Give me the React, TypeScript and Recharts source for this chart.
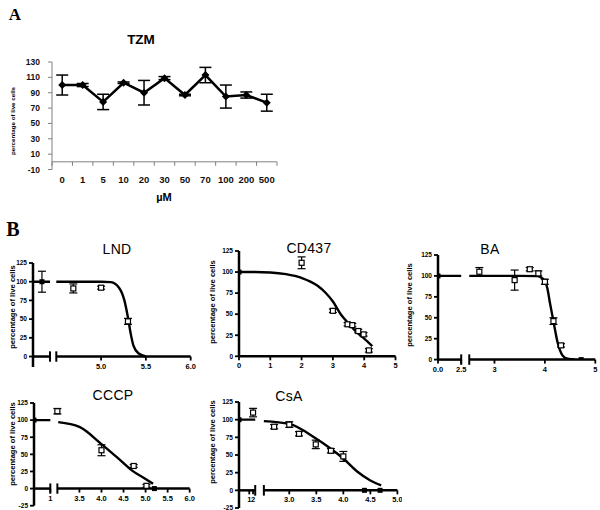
import React from 'react';
import { ComposedChart, Line, Scatter, XAxis, YAxis, ErrorBar, ReferenceLine } from 'recharts';

const SANS = '"Liberation Sans", Arial, sans-serif';
const SERIF = '"Liberation Serif", "Times New Roman", serif';

// ---- Panel A: TZM dose response (Excel style)
const tzmDoses = ['0', '1', '5', '10', '20', '30', '50', '70', '100', '200', '500'];
const tzmLive = [100, 100, 78, 103, 90, 109, 87, 113, 85, 87, 77];
const tzmSd = [13, 2, 10, 1, 16, 2, 1, 10, 15, 4, 11];
const tzmTicks = [-10, 10, 30, 50, 70, 90, 110, 130];

// ---- Panel B: fitted curves (log concentration)
const lndDose = [4.69, 5.0, 5.3];
const lndLive = [91, 92, 47];
const lndErr = [6, 2, 4];
const lndCurveX = [4.5, 5.0, 5.11, 5.2, 5.26, 5.3, 5.33, 5.36, 5.42, 5.5];
const lndCurveY = [100, 100, 99.5, 92, 75, 52, 31, 15, 4, 0];
const lndControl = [100];
const lndControlErr = [14];

const cd437Dose = [2.0, 3.0, 3.47, 3.62, 3.81, 3.98, 4.15];
const cd437Live = [111, 54, 38, 37, 30, 26, 7];
const cd437Err = [7, 2, 2, 2, 2, 2, 2];
const cd437CurveX = [0, 0.5, 1, 1.5, 2, 2.5, 2.75, 3, 3.25, 3.5, 3.75, 4, 4.26];
const cd437CurveY = [100, 100, 99.5, 97.5, 93, 84, 76, 65, 50, 39, 29, 21, 12];
const cd437Control = [100];

const baDose = [2.7, 3.4, 3.7, 3.87, 4.0, 4.17, 4.32];
const baLive = [105, 95, 108, 103, 93, 46, 17];
const baErr = [5, 12, 2, 3, 3, 4, 2];
const baZeroDose = [4.72];
const baCurveX = [2.5, 3.0, 3.5, 3.85, 3.9, 4.0, 4.05, 4.1, 4.15, 4.2, 4.25, 4.3, 4.35, 4.45, 4.6];
const baCurveY = [100, 100, 100, 99.7, 99, 94, 85, 68, 52, 36, 21, 11, 5, 1, 0];
const baControl = [100];

const ccDose = [3.0, 4.0, 4.73, 5.02];
const ccLive = [113, 56, 33, 4];
const ccErr = [4, 8, 2, 2];
const ccZeroDose = [5.2];
const ccCurveX = [3.02, 3.5, 4.0, 4.38, 4.68, 5.0, 5.17];
const ccCurveY = [97, 90, 65, 44, 27, 14, 7];
const ccControl = [100];

const csaDose = [2.72, 3.0, 3.18, 3.49, 3.77, 4.0];
const csaLive = [90, 93, 80, 65, 56, 48];
const csaErr = [3, 4, 3, 6, 3, 7];
const csaZeroDose = [4.39, 4.68];
const csaCurveX = [2.53, 3.0, 3.5, 3.75, 4.0, 4.25, 4.5, 4.7];
const csaCurveY = [98, 94, 73, 60, 45, 27, 14, 7];
const csaControl = [100];
const csaVehicle = [110];
const csaVehicleErr = [6];

const bTicks = [0, 25, 50, 75, 100, 125];
const bTicksNeg = [-25, 0, 25, 50, 75, 100, 125];

type Plot = { x: number; y: number; w: number; h: number };
type Pt = { x: number; y: number; err?: number };

const YW = 30;
const XH = 22;
const MT = 5;
const MR = 5;

function frame(p: Plot) {
  return {
    left: p.x - YW,
    top: p.y - MT,
    width: p.w + YW + MR,
    height: p.h + MT + XH,
  };
}

const zip = (xs: number[], ys: number[], es?: number[]): Pt[] =>
  xs.map((x, i) => ({ x, y: ys[i], err: es ? es[i] : 0 }));

const openSquare = (props: any) => (
  <rect x={props.cx - 2.5} y={props.cy - 2.5} width={5} height={5} fill="#fff" stroke="#000" strokeWidth={1.2} />
);
const filledSquare = (props: any) => (
  <rect x={props.cx - 2.5} y={props.cy - 2.5} width={5} height={5} fill="#000" />
);

interface PanelCfg {
  plot: Plot;
  xDomain: [number, number];
  yDomain: [number, number];
  yTicks: number[];
  xTicks: number[];
  xLabels: string[];
  segments: [number, number][];
  breaks: number[];
  ctrlSpan?: [number, number];
  ctrlX: number;
  control: number[];
  controlErr?: number[];
  curve: Pt[];
  points: Pt[];
  zeros: Pt[];
}

function DosePanel({ cfg }: { cfg: PanelCfg }) {
  const { plot, xDomain, yDomain } = cfg;
  const f = frame(plot);
  const y0 = MT + (plot.h * yDomain[1]) / (yDomain[1] - yDomain[0]);
  const brk = (yDomain[1] - yDomain[0]) * 0.05;
  const ctrlPts = zip([cfg.ctrlX], cfg.control, cfg.controlErr);
  const ctrlLine = cfg.ctrlSpan
    ? cfg.ctrlSpan.map((x) => ({ x, y: cfg.control[0] }))
    : [];

  const renderTick = (props: any) => {
    const { x, payload } = props;
    const i = cfg.xTicks.indexOf(payload.value);
    return (
      <g>
        <line x1={x} x2={x} y1={y0} y2={y0 + 4} stroke="#000" strokeWidth={1.8} />
        <text x={x} y={y0 + 12} textAnchor="middle" fontSize={7.5} fontWeight="bold" fontFamily={SANS} fill="#000">
          {cfg.xLabels[i]}
        </text>
      </g>
    );
  };

  return (
    <div style={{ position: 'absolute', left: f.left, top: f.top }}>
      <ComposedChart width={f.width} height={f.height} margin={{ top: MT, right: MR, left: 0, bottom: 0 }}>
        <XAxis
          type="number"
          dataKey="x"
          domain={xDomain}
          ticks={cfg.xTicks}
          interval={0}
          allowDataOverflow
          axisLine={false}
          tickLine={false}
          tick={renderTick}
          height={XH}
        />
        <YAxis
          type="number"
          dataKey="y"
          domain={yDomain}
          ticks={cfg.yTicks}
          interval={0}
          allowDataOverflow
          width={YW}
          axisLine={{ stroke: '#000', strokeWidth: 2.5 }}
          tickLine={{ stroke: '#000', strokeWidth: 1.8 }}
          tickSize={4}
          tickMargin={2}
          tick={{ fontSize: 6.5, fontWeight: 'bold', fill: '#000', fontFamily: SANS }}
        />
        {cfg.segments.map(([a, b], i) => (
          <ReferenceLine
            key={'seg' + i}
            segment={[{ x: a, y: 0 }, { x: b, y: 0 }]}
            stroke="#000"
            strokeWidth={2.5}
            ifOverflow="visible"
          />
        ))}
        {cfg.breaks.map((b, i) => (
          <ReferenceLine
            key={'brk' + i}
            segment={[{ x: b, y: -brk }, { x: b, y: brk }]}
            stroke="#000"
            strokeWidth={2}
            ifOverflow="visible"
          />
        ))}
        {ctrlLine.length > 0 && (
          <Line data={ctrlLine} dataKey="y" type="linear" stroke="#000" strokeWidth={2.4} dot={false} isAnimationActive={false} />
        )}
        <Line data={cfg.curve} dataKey="y" type="monotone" stroke="#000" strokeWidth={2.4} dot={false} isAnimationActive={false} />
        <Scatter data={cfg.points} dataKey="y" shape={openSquare} isAnimationActive={false}>
          <ErrorBar dataKey="err" direction="y" width={4} stroke="#000" strokeWidth={1.2} />
        </Scatter>
        <Scatter data={cfg.zeros} dataKey="y" shape={filledSquare} isAnimationActive={false} />
        <Scatter data={ctrlPts} dataKey="y" shape={filledSquare} isAnimationActive={false}>
          <ErrorBar dataKey="err" direction="y" width={4} stroke="#000" strokeWidth={1.2} />
        </Scatter>
      </ComposedChart>
    </div>
  );
}

const panels: PanelCfg[] = [
  {
    plot: { x: 33.3, y: 262.7, w: 157.7, h: 104 },
    xDomain: [4.24, 6.0],
    yDomain: [-14, 125],
    yTicks: bTicks,
    xTicks: [5.0, 5.5, 6.0],
    xLabels: ['5.0', '5.5', '6.0'],
    segments: [[4.24, 4.43], [4.5, 6.0]],
    breaks: [4.43, 4.5],
    ctrlSpan: [4.24, 4.43],
    ctrlX: 4.34,
    control: lndControl,
    controlErr: lndControlErr,
    curve: zip(lndCurveX, lndCurveY),
    points: zip(lndDose, lndLive, lndErr),
    zeros: [],
  },
  {
    plot: { x: 239, y: 250.7, w: 156.5, h: 105.3 },
    xDomain: [0, 5],
    yDomain: [0, 125],
    yTicks: bTicks,
    xTicks: [0, 1, 2, 3, 4, 5],
    xLabels: ['0', '1', '2', '3', '4', '5'],
    segments: [[0, 5]],
    breaks: [],
    ctrlX: 0,
    control: cd437Control,
    curve: zip(cd437CurveX, cd437CurveY),
    points: zip(cd437Dose, cd437Live, cd437Err),
    zeros: [],
  },
  {
    plot: { x: 437.7, y: 254.7, w: 157.3, h: 104.6 },
    xDomain: [1.88, 5.0],
    yDomain: [0, 125],
    yTicks: bTicks,
    xTicks: [1.88, 2.34, 3, 4, 5],
    xLabels: ['0.0', '2.5', '3', '4', '5'],
    segments: [[1.88, 2.34], [2.5, 5.0]],
    breaks: [2.34, 2.5],
    ctrlSpan: [1.88, 2.34],
    ctrlX: 1.88,
    control: baControl,
    curve: zip(baCurveX, baCurveY),
    points: zip(baDose, baLive, baErr),
    zeros: baZeroDose.map((x) => ({ x, y: 0 })),
  },
  {
    plot: { x: 34.3, y: 402.7, w: 155.7, h: 102.7 },
    xDomain: [2.47, 6.0],
    yDomain: [-25, 125],
    yTicks: bTicksNeg,
    xTicks: [2.84, 3.5, 4.0, 4.5, 5.0, 5.5, 6.0],
    xLabels: ['1', '3.5', '4.0', '4.5', '5.0', '5.5', '6.0'],
    segments: [[2.47, 2.84], [3.0, 6.0]],
    breaks: [2.84, 3.0],
    ctrlSpan: [2.47, 2.84],
    ctrlX: 2.47,
    control: ccControl,
    curve: zip(ccCurveX, ccCurveY),
    points: zip(ccDose, ccLive, ccErr),
    zeros: ccZeroDose.map((x) => ({ x, y: 0 })),
  },
  {
    plot: { x: 239, y: 401.7, w: 158.4, h: 106 },
    xDomain: [2.07, 5.0],
    yDomain: [-25, 125],
    yTicks: bTicksNeg,
    xTicks: [2.26, 2.33, 3.0, 3.5, 4.0, 4.5, 5.0],
    xLabels: ['1', '2', '3.0', '3.5', '4.0', '4.5', '5.0'],
    segments: [[2.07, 2.37], [2.53, 5.0]],
    breaks: [2.37, 2.53],
    ctrlSpan: [2.07, 2.37],
    ctrlX: 2.07,
    control: csaControl,
    curve: zip(csaCurveX, csaCurveY),
    points: [...zip([2.33], csaVehicle, csaVehicleErr), ...zip(csaDose, csaLive, csaErr)],
    zeros: csaZeroDose.map((x) => ({ x, y: 0 })),
  },
];

const titles = [
  { text: 'LND', x: 117, y: 249 },
  { text: 'CD437', x: 309, y: 248 },
  { text: 'BA', x: 490, y: 249 },
  { text: 'CCCP', x: 113, y: 395 },
  { text: 'CsA', x: 289, y: 396 },
];
const yLabels = [
  { x: 12.7, y: 307 },
  { x: 212.7, y: 302 },
  { x: 410, y: 305 },
  { x: 12.7, y: 444 },
  { x: 212.7, y: 442 },
];

function Txt(props: {
  x: number;
  y: number;
  size: number;
  bold?: boolean;
  rotate?: boolean;
  font?: string;
  spacing?: number;
  children: React.ReactNode;
}) {
  return (
    <div
      style={{
        position: 'absolute',
        left: props.x,
        top: props.y,
        transform: `translate(-50%, -50%)${props.rotate ? ' rotate(-90deg)' : ''}`,
        whiteSpace: 'nowrap',
        fontSize: props.size,
        fontWeight: props.bold ? 'bold' : 'normal',
        fontFamily: props.font || SANS,
        letterSpacing: props.spacing || 0,
        lineHeight: 1,
        color: '#000',
      }}
    >
      {props.children}
    </div>
  );
}

function TzmPanel() {
  const plot: Plot = { x: 52, y: 62, w: 225, h: 107.5 };
  const f = frame(plot);
  const data = tzmDoses.map((dose, i) => ({ dose, live: tzmLive[i], sd: tzmSd[i] }));
  const y0 = MT + (plot.h * 130) / 140;
  const band = plot.w / tzmDoses.length;

  const renderTick = (props: any) => {
    const { x, payload, index } = props;
    const last = index === tzmDoses.length - 1;
    return (
      <g>
        <line x1={x - band / 2} x2={x - band / 2} y1={y0} y2={y0 + 4} stroke="#808080" />
        {last && <line x1={x + band / 2} x2={x + band / 2} y1={y0} y2={y0 + 4} stroke="#808080" />}
        <text x={x} y={MT + plot.h + 13} textAnchor="middle" fontSize={9.5} fontWeight="bold" fontFamily={SANS} fill="#111">
          {payload.value}
        </text>
      </g>
    );
  };

  const diamond = (props: any) => {
    const { cx, cy } = props;
    return <path key={'d' + props.index} d={`M${cx},${cy - 4}L${cx + 4},${cy}L${cx},${cy + 4}L${cx - 4},${cy}Z`} fill="#000" />;
  };

  return (
    <div style={{ position: 'absolute', left: f.left, top: f.top }}>
      <ComposedChart width={f.width} height={f.height} data={data} margin={{ top: MT, right: MR, left: 0, bottom: 0 }}>
        <XAxis
          dataKey="dose"
          type="category"
          axisLine={false}
          tickLine={false}
          interval={0}
          tick={renderTick}
          height={XH}
          padding={{ left: band / 2, right: band / 2 }}
        />
        <YAxis
          type="number"
          domain={[-10, 130]}
          ticks={tzmTicks}
          interval={0}
          allowDataOverflow
          width={YW}
          axisLine={{ stroke: '#808080' }}
          tickLine={{ stroke: '#808080' }}
          tickSize={4}
          tickMargin={8}
          tick={{ fontSize: 8.5, fontWeight: 'bold', fill: '#111', fontFamily: SANS }}
        />
        <ReferenceLine y={0} stroke="#808080" />
        <Line dataKey="live" stroke="#000" strokeWidth={2.5} dot={diamond} isAnimationActive={false}>
          <ErrorBar dataKey="sd" direction="y" width={6} stroke="#000" strokeWidth={1.5} />
        </Line>
      </ComposedChart>
    </div>
  );
}

export default function App() {
  return (
    <div style={{ position: 'absolute', left: 0, top: 0, width: 600, height: 510, overflow: 'hidden', background: '#fff' }}>
      <Txt x={15} y={14} size={17} bold font={SERIF}>A</Txt>
      <Txt x={141} y={40} size={13.5} bold>TZM</Txt>
      <Txt x={164} y={197} size={11} bold>µM</Txt>
      <Txt x={13} y={121} size={6.2} bold rotate>percentage of live cells</Txt>
      <TzmPanel />

      <Txt x={13} y={229} size={20} bold font={SERIF}>B</Txt>
      {panels.map((cfg, i) => (
        <DosePanel key={i} cfg={cfg} />
      ))}
      {titles.map((t) => (
        <Txt key={t.text} x={t.x} y={t.y} size={14} spacing={0.3}>
          {t.text}
        </Txt>
      ))}
      {yLabels.map((p, i) => (
        <Txt key={i} x={p.x} y={p.y} size={7.6} bold rotate>
          percentage of live cells
        </Txt>
      ))}
    </div>
  );
}
